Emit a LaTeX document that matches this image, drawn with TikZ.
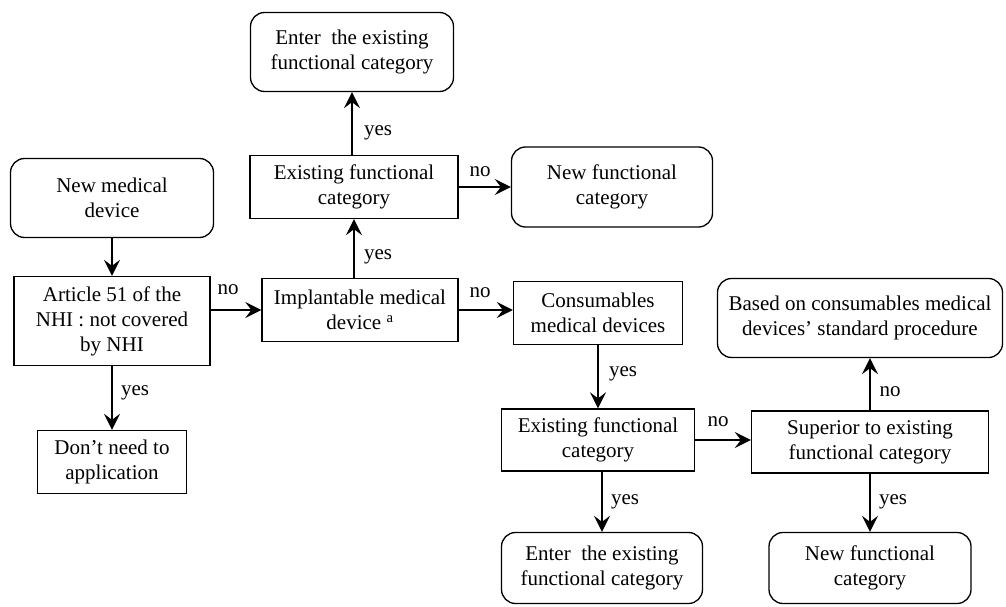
\documentclass[tikz,border=0pt]{standalone}
\usepackage{fontspec}
\setmainfont{LiberationSerif}[Extension=.ttf, UprightFont=*-Regular, BoldFont=*-Bold]
\usetikzlibrary{arrows.meta}

\begin{document}
\begin{tikzpicture}
		[x=1pt, y=-1pt,
		boxsty/.style={draw, line width=1.3pt, align=center, inner sep=0pt,
			font=\rmfamily\fontsize{21}{25}\selectfont},
		roundsty/.style={boxsty, rounded corners=14pt},
		arrsty/.style={draw, line width=2.4pt,
			-{Stealth[length=16pt,width=16pt,inset=6pt]}},
		lblsty/.style={inner sep=0pt, font=\rmfamily\fontsize{21}{22}\selectfont}]
		\useasboundingbox (0,0) rectangle (1006,607);
		
		\node (enter 1) at (352,52) [roundsty, minimum width=203pt, minimum height=79pt] {Enter\ \ the existing\\functional category};
		\node (exist 1) at (354,187) [boxsty, minimum width=208pt, minimum height=63pt] {Existing functional\\category};
		\node (newfunc 1) at (612,187) [roundsty, minimum width=201pt, minimum height=80pt] {New functional\\category};
		\node (newdev) at (112,198) [roundsty, minimum width=203pt, minimum height=79pt] {New medical\\device};
		\node (article) at (112,321) [boxsty, minimum width=196pt, minimum height=89pt] {Article 51 of the\\NHI : not covered\\by NHI};
		\node (noneed) at (112,462) [boxsty, minimum width=149pt, minimum height=63pt] {Don’t need to\\application};
		\node (implant) at (360,310) [boxsty, minimum width=196pt, minimum height=63pt] {Implantable medical\\device \textsuperscript{a}};
		\node (consum) at (598,313) [boxsty, minimum width=169pt, minimum height=63pt] {Consumables\\medical devices};
		\node (based) at (860,318) [roundsty, minimum width=285pt, minimum height=79pt] {Based on consumables medical\\devices’ standard procedure};
		\node (exist 2) at (598,440) [boxsty, minimum width=193pt, minimum height=62pt] {Existing functional\\category};
		\node (superior) at (870,442) [boxsty, minimum width=237pt, minimum height=62pt] {Superior to existing\\functional category};
		\node (enter 2) at (602,568) [roundsty, minimum width=201pt, minimum height=71pt] {Enter\ \ the existing\\functional category};
		\node (newfunc 2) at (870,568) [roundsty, minimum width=202pt, minimum height=71pt] {New functional\\category};
		
		\draw[arrsty] (newdev) -- (article);
		\draw[arrsty] (article) -- (noneed);
		\draw[arrsty] (article.east |- implant) -- (implant.west);
		\draw[arrsty] (implant.north -| exist 1.south) -- (exist 1.south);
		\draw[arrsty] (exist 1.north -| enter 1.south) -- (enter 1.south);
		\draw[arrsty] (exist 1.east) -- (exist 1.east -| newfunc 1.west);
		\draw[arrsty] (implant.east) -- (implant.east -| consum.west);
		\draw[arrsty] (consum.south) -- (consum.south |- exist 2.north);
		\draw[arrsty] (enter 2.north |- exist 2.south) -- (enter 2.north);
		\draw[arrsty] (exist 2.east) -- (exist 2.east -| superior.west);
		\draw[arrsty] (superior.north) -- (superior.north |- based.south);
		\draw[arrsty] (superior) -- (newfunc 2);
		
		\node (text 1) at (378,133) [lblsty] {yes};
		\node (text 2) at (378,257) [lblsty] {yes};
		\node (text 3) at (480,172) [lblsty] {no};
		\node (text 4) at (228,290) [lblsty] {no};
		\node (text 5) at (480,293) [lblsty] {no};
		\node (text 6) at (135,393) [lblsty] {yes};
		\node (text 7) at (623,374) [lblsty] {yes};
		\node (text 8) at (718,422) [lblsty] {no};
		\node (text 9) at (890,392) [lblsty] {no};
		\node (text 10) at (893,502) [lblsty] {yes};
		\node (text 11) at (625,502) [lblsty] {yes};
	\end{tikzpicture}
\end{document}
